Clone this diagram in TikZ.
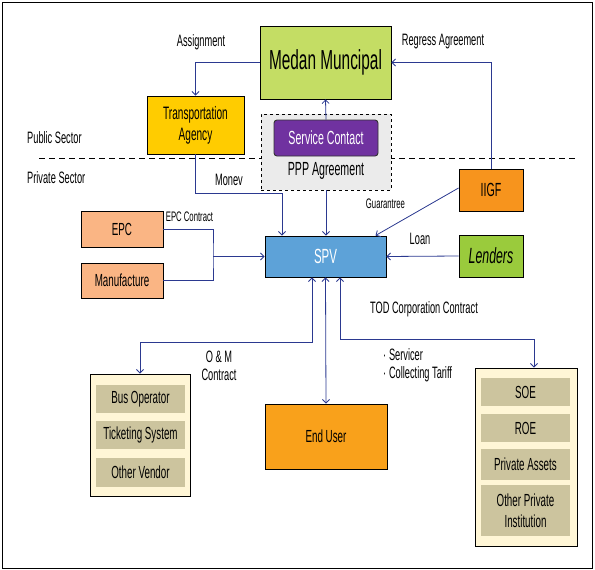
\documentclass[tikz,border=0pt]{standalone}
\usepackage{fontspec}
\setmainfont{Liberation Sans}[FakeStretch=0.56]
\usetikzlibrary{arrows.meta, calc}
\usepackage{xcolor}

\definecolor{medangreen}{HTML}{C4DD64}
\definecolor{agencyyellow}{HTML}{FFCC00}
\definecolor{svcpurple}{HTML}{7032A0}
\definecolor{pppgray}{HTML}{EBEBEB}
\definecolor{iigforange}{HTML}{F7941D}
\definecolor{lendgreen}{HTML}{9ACB3C}
\definecolor{spvblue}{HTML}{5DA2D8}
\definecolor{epcsalmon}{HTML}{FAB584}
\definecolor{userorange}{HTML}{F9A11B}
\definecolor{cream}{HTML}{FFF6D6}
\definecolor{tanfill}{HTML}{CCC49E}
\definecolor{linkblue}{HTML}{2B3990}

\newcommand{\lblfont}{\fontsize{16.5}{18}\selectfont}
\newcommand{\boxfont}{\fontsize{17.5}{21}\selectfont}
\newcommand{\smlfont}{\fontsize{13.8}{15}\selectfont}

\begin{document}
\begin{tikzpicture}[x=1pt, y=-1pt,
  >={Straight Barb[length=3.5pt,width=7pt]},
  box/.style={draw=black, line width=0.9pt, inner sep=1pt, align=center, font=\boxfont},
  item/.style={fill=tanfill, inner sep=1pt, align=center, minimum width=89pt, font=\boxfont},
  link/.style={draw=linkblue, line width=0.8pt, ->},
  dlink/.style={draw=linkblue, line width=0.8pt, <->},
  lbl/.style={font=\lblfont, inner sep=0pt, align=center}]
  \useasboundingbox (0,0) rectangle (595,570);
  \draw[line width=0.9pt] (2,2) rectangle (592,568);

  % Sector line
  \draw[dashed, line width=0.8pt, dash pattern=on 6pt off 4pt] (39,158) -- (578,158);
  \node[lbl, anchor=west] (pubsec) at (27,138) {Public Sector};
  \node[lbl, anchor=west] (privsec) at (27,178) {Private Sector};

  % Public side
  \node[box, fill=medangreen, minimum width=131pt, minimum height=73pt, font=\fontsize{27.5}{30}\selectfont] (medan) at (325.5,62.5) {Medan Muncipal};
  \node[box, fill=agencyyellow, minimum width=97pt, minimum height=58pt, font=\fontsize{18}{21}\selectfont] (agency) at (195.5,125) {Transportation\\Agency};
  \node[draw=black, dashed, line width=0.8pt, fill=pppgray, minimum width=130pt, minimum height=76pt] (ppp) at (326,152) {};
  \node[box, draw=black!80, rounded corners=3pt, fill=svcpurple, text=white, minimum width=104pt, minimum height=36pt, font=\fontsize{19}{21}\selectfont] (svc) at (326,138) {Service Contact};
  \node[lbl, font=\fontsize{19}{21}\selectfont] (pppagr) at (326,171) {PPP Agreement};

  % Private side
  \node[box, fill=spvblue, text=white, minimum width=121pt, minimum height=41pt, font=\fontsize{20.5}{23}\selectfont] (spv) at (325.5,256.5) {SPV};
  \node[box, fill=iigforange, minimum width=64pt, minimum height=42pt, font=\fontsize{19}{21}\selectfont] (iigf) at (491,190) {IIGF};
  \node[box, fill=lendgreen, minimum width=64pt, minimum height=42pt, font=\fontsize{22}{24}\selectfont\itshape] (lenders) at (491,256) {Lenders};
  \node[box, fill=epcsalmon, minimum width=82pt, minimum height=36pt] (epc) at (122,229) {EPC};
  \node[box, fill=epcsalmon, minimum width=82pt, minimum height=35pt] (manuf) at (122,280.5) {Manufacture};
  \node[box, fill=userorange, minimum width=122pt, minimum height=65pt] (enduser) at (326,436.5) {End User};

  \node[box, fill=cream, minimum width=100pt, minimum height=122pt] (vendors) at (140,435) {};
  \node[item, minimum height=28pt] (busop) at (140.5,399) {Bus Operator};
  \node[item, minimum height=28pt] (ticket) at (140.5,435) {Ticketing System};
  \node[item, minimum height=29pt] (othervendor) at (140.5,472.5) {Other Vendor};

  \node[box, fill=cream, minimum width=102pt, minimum height=178pt] (assets) at (526,457) {};
  \node[item, minimum height=28pt] (soe) at (525.5,392) {SOE};
  \node[item, minimum height=28pt] (roe) at (525.5,428) {ROE};
  \node[item, minimum height=31pt] (privassets) at (525.5,464.5) {Private Assets};
  \node[item, minimum height=51pt] (otherpriv) at (525.5,510.5) {Other Private\\Institution};

  % Connectors
  \draw[link] (medan.west) -| (agency.north);
  \draw[link] (iigf.north) |- (medan.east);
  \draw[link] (svc.north) -- (medan.south);
  \draw[link] (agency.south) -- ++(0,39) -| ([xshift=-43.5pt]spv.north);
  \draw[link] (ppp.south) -- (ppp.south |- spv.north);
  \draw[link] ([yshift=2pt]iigf.west) -- ([xshift=50pt]spv.north);
  \draw[link] (lenders.west) -- (spv.east);
  \coordinate (epcjoin) at (213,256.5);
  \draw[draw=linkblue, line width=0.8pt] (epc.east) -| (epcjoin) |- (manuf.east);
  \draw[link] (epcjoin) -- (spv.west);
  \draw[dlink] ([xshift=-13.5pt]spv.south) -- ++(0,65) -| (vendors.north);
  \draw[dlink] (spv.south) -- (enduser.north);
  \draw[dlink] ([xshift=14.5pt]spv.south) -- ++(0,62) -| ([xshift=8pt]assets.north);

  % Labels
  \node[lbl] (assign) at (201,42) {Assignment};
  \node[lbl] (regress) at (443,42) {Regress Agreement};
  \node[lbl] (monev) at (229,180) {Monev};
  \node[lbl, font=\smlfont] (guar) at (385.5,204) {Guarantree};
  \node[lbl, font=\smlfont] (epccon) at (189.5,217) {EPC Contract};
  \node[lbl] (loan) at (420,239) {Loan};
  \node[lbl] (tod) at (424,309) {TOD Corporation Contract};
  \node[lbl] (omcon) at (219,366) {O \& M\\Contract};
  \node[lbl, align=left, anchor=north west] (service) at (383,348) {\textperiodcentered\,Servicer\\\textperiodcentered\,Collecting Tariff};
\end{tikzpicture}
\end{document}
